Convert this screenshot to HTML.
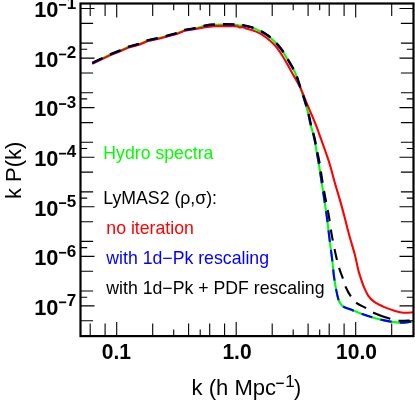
<!DOCTYPE html><html><head><meta charset="utf-8"><style>html,body{margin:0;padding:0;background:#fff}svg{display:block;will-change:transform}text{font-family:"Liberation Sans",sans-serif}</style></head><body>
<svg width="415" height="410" viewBox="0 0 415 410">
<rect width="415" height="410" fill="#fff"/>
<g fill="none" stroke-width="2.1" stroke-linejoin="round">
<path d="M92.30,63.20 L102.60,58.30 L109.90,54.80 L120.10,50.70 L128.90,46.80 L139.10,44.10 L147.30,40.60 L157.60,38.40 L166.30,36.20 L176.60,33.50 L184.60,30.20 L195.60,28.40 L203.80,26.10 L209.80,25.00 L214.60,24.70 L224.30,24.50 L233.90,24.70 L236.80,24.70 L239.50,25.80 L242.50,25.30 L246.20,26.20 C247.33,26.45 248.03,26.47 249.30,26.80 C250.57,27.13 252.20,27.58 253.80,28.20 C255.40,28.82 257.68,29.95 258.90,30.50 C260.12,31.05 260.30,31.08 261.10,31.50 C261.90,31.92 262.23,32.03 263.70,33.00 C265.17,33.97 267.77,35.52 269.90,37.30 C272.03,39.08 274.32,41.28 276.50,43.70 C278.68,46.12 281.05,49.00 283.00,51.80 C284.95,54.60 286.48,57.60 288.20,60.50 C289.92,63.40 292.07,66.98 293.30,69.20 C294.53,71.42 294.48,70.83 295.60,73.80 C296.72,76.77 298.53,82.62 300.00,87.00 C301.47,91.38 303.10,95.97 304.40,100.10 C305.70,104.23 306.75,107.65 307.80,111.80 C308.85,115.95 309.62,120.57 310.70,125.00 C311.78,129.43 313.27,133.73 314.30,138.40 C315.33,143.07 316.12,148.60 316.90,153.00 C317.68,157.40 318.35,160.85 319.00,164.80 C319.65,168.75 320.05,171.78 320.80,176.70 C321.55,181.62 322.68,188.93 323.50,194.30 C324.32,199.67 325.12,204.95 325.70,208.90 C326.28,212.85 326.55,214.55 327.00,218.00 C327.45,221.45 327.87,225.22 328.40,229.60 C328.93,233.98 329.58,239.42 330.20,244.30 C330.82,249.18 331.63,255.12 332.10,258.90 C332.57,262.68 332.68,264.03 333.00,267.00 C333.32,269.97 333.47,272.88 334.00,276.70 C334.53,280.52 335.47,286.12 336.20,289.90 C336.93,293.68 337.67,297.08 338.40,299.40 C339.13,301.72 339.75,302.58 340.60,303.80 C341.45,305.02 341.43,305.60 343.50,306.70 C345.57,307.80 349.78,309.13 353.00,310.40 C356.22,311.67 359.53,313.13 362.80,314.30 C366.07,315.47 369.02,316.38 372.60,317.40 C376.18,318.42 380.65,319.62 384.30,320.40 C387.95,321.18 391.33,321.73 394.50,322.10 C397.67,322.47 400.22,322.72 403.30,322.60 C406.38,322.48 411.38,321.60 413.00,321.40" stroke="#00ff00"/>
<path d="M92.30,63.80 L102.60,58.90 L109.90,55.40 L120.10,51.30 L128.90,47.40 L139.10,44.70 L147.30,41.20 L157.60,39.00 L166.30,36.80 L176.60,34.10 L184.60,30.80 L195.60,29.00 L203.80,27.50 L214.00,26.10 L224.30,25.90 L234.50,26.10 L237.00,26.30 L239.50,27.40 L242.50,27.10 L246.20,28.50 C248.08,29.12 251.30,29.87 253.80,30.80 C256.30,31.73 258.48,32.44 261.20,34.10 C263.92,35.76 267.55,38.50 270.15,40.75 C272.75,43.00 274.61,44.86 276.80,47.60 C278.99,50.34 281.37,54.12 283.30,57.20 C285.23,60.28 286.78,63.23 288.40,66.10 C290.02,68.97 290.95,70.68 293.00,74.40 C295.05,78.12 298.43,83.63 300.70,88.40 C302.97,93.17 304.77,98.60 306.60,103.00 C308.43,107.40 310.13,111.10 311.70,114.80 C313.27,118.50 314.48,121.27 316.00,125.20 C317.52,129.13 319.13,133.77 320.80,138.40 C322.47,143.03 324.48,148.60 326.00,153.00 C327.52,157.40 328.37,159.63 329.90,164.80 C331.43,169.97 333.45,177.87 335.20,184.00 C336.95,190.13 338.88,196.27 340.40,201.60 C341.92,206.93 342.88,210.60 344.30,216.00 C345.72,221.40 347.15,227.58 348.90,234.00 C350.65,240.42 353.23,248.50 354.80,254.50 C356.37,260.50 357.38,266.30 358.30,270.00 C359.22,273.70 359.38,273.92 360.30,276.70 C361.22,279.48 362.48,283.55 363.80,286.70 C365.12,289.85 366.50,293.10 368.20,295.60 C369.90,298.10 371.32,299.78 374.00,301.70 C376.68,303.62 380.88,305.60 384.30,307.10 C387.72,308.60 391.33,309.77 394.50,310.70 C397.67,311.63 400.22,312.43 403.30,312.70 C406.38,312.97 411.38,312.37 413.00,312.30" stroke="#ff0000"/>
<path d="M92.30,63.20 L102.60,58.30 L109.90,54.80 L120.10,50.70 L128.90,46.80 L139.10,44.10 L147.30,40.60 L157.60,38.40 L166.30,36.20 L176.60,33.50 L184.60,30.20 L195.60,28.40 L203.80,26.10 L209.80,25.00 L214.60,24.70 L224.30,24.50 L233.90,24.70 L236.80,24.70 L239.50,25.80 L242.50,25.30 L246.20,26.20 C247.33,26.45 248.03,26.47 249.30,26.80 C250.57,27.13 252.20,27.58 253.80,28.20 C255.40,28.82 257.68,29.95 258.90,30.50 C260.12,31.05 260.30,31.08 261.10,31.50 C261.90,31.92 262.23,32.03 263.70,33.00 C265.17,33.97 267.77,35.52 269.90,37.30 C272.03,39.08 274.32,41.28 276.50,43.70 C278.68,46.12 281.05,49.00 283.00,51.80 C284.95,54.60 286.48,57.60 288.20,60.50 C289.92,63.40 292.07,66.98 293.30,69.20 C294.53,71.42 294.48,70.83 295.60,73.80 C296.72,76.77 298.53,82.62 300.00,87.00 C301.47,91.38 303.10,95.97 304.40,100.10 C305.70,104.23 306.75,107.65 307.80,111.80 C308.85,115.95 309.62,120.57 310.70,125.00 C311.78,129.43 313.27,133.73 314.30,138.40 C315.33,143.07 316.12,148.60 316.90,153.00 C317.68,157.40 318.35,160.85 319.00,164.80 C319.65,168.75 320.05,171.78 320.80,176.70 C321.55,181.62 322.68,188.93 323.50,194.30 C324.32,199.67 325.12,204.95 325.70,208.90 C326.28,212.85 326.55,214.55 327.00,218.00 C327.45,221.45 327.87,225.22 328.40,229.60 C328.93,233.98 329.58,239.42 330.20,244.30 C330.82,249.18 331.63,255.12 332.10,258.90 C332.57,262.68 332.68,264.03 333.00,267.00 C333.32,269.97 333.47,272.88 334.00,276.70 C334.53,280.52 335.47,286.12 336.20,289.90 C336.93,293.68 337.67,297.08 338.40,299.40 C339.13,301.72 339.75,302.58 340.60,303.80 C341.45,305.02 341.43,305.60 343.50,306.70 C345.57,307.80 349.78,309.13 353.00,310.40 C356.22,311.67 359.53,313.13 362.80,314.30 C366.07,315.47 369.02,316.38 372.60,317.40 C376.18,318.42 380.65,319.62 384.30,320.40 C387.95,321.18 391.33,321.73 394.50,322.10 C397.67,322.47 400.22,322.72 403.30,322.60 C406.38,322.48 411.38,321.60 413.00,321.40" stroke="#0000ff" stroke-dasharray="11.35 8.29"/>
<path d="M92.30,62.80 L102.60,57.90 L109.90,54.40 L120.10,50.30 L128.90,46.40 L139.10,43.70 L147.30,40.20 L157.60,38.00 L166.30,35.80 L176.60,33.10 L184.60,29.80 L195.60,28.00 L203.80,25.70 L209.80,24.60 L214.60,24.30 L224.30,24.10 L233.90,24.30 L236.80,24.30 L239.50,25.40 L242.50,24.90 L246.20,25.80 C247.33,26.05 247.99,26.06 249.30,26.40 C250.61,26.74 252.41,27.22 254.05,27.85 C255.69,28.47 257.93,29.60 259.15,30.15 C260.37,30.70 260.55,30.73 261.35,31.15 C262.15,31.57 262.48,31.68 263.95,32.65 C265.42,33.62 267.99,35.13 270.15,36.95 C272.31,38.77 274.69,41.10 276.90,43.55 C279.11,46.00 281.45,48.85 283.40,51.65 C285.35,54.45 286.88,57.45 288.60,60.35 C290.32,63.25 292.47,66.83 293.70,69.05 C294.93,71.27 294.88,70.68 296.00,73.65 C297.12,76.62 298.93,82.47 300.40,86.85 C301.87,91.23 303.50,95.82 304.80,99.95 C306.10,104.08 307.15,107.50 308.20,111.65 C309.25,115.80 310.02,120.42 311.10,124.85 C312.18,129.28 313.62,133.56 314.70,138.25 C315.78,142.94 316.72,148.54 317.60,153.00 C318.48,157.46 319.33,161.17 320.00,165.00 C320.67,168.83 320.77,170.83 321.60,176.00 C322.43,181.17 323.82,189.50 325.00,196.00 C326.18,202.50 327.58,208.55 328.70,215.00 C329.82,221.45 330.55,228.20 331.70,234.70 C332.85,241.20 334.37,248.47 335.60,254.00 C336.83,259.53 337.90,263.87 339.10,267.90 C340.30,271.93 341.70,275.02 342.80,278.20 C343.90,281.38 344.35,283.95 345.70,287.00 C347.05,290.05 349.07,293.82 350.90,296.50 C352.73,299.18 354.15,301.15 356.70,303.10 C359.25,305.05 363.32,306.55 366.20,308.20 C369.08,309.85 370.13,311.27 374.00,313.00 C377.87,314.73 385.25,317.32 389.40,318.60 C393.55,319.88 395.37,320.40 398.90,320.70 C402.43,321.00 408.25,320.48 410.60,320.40 C412.95,320.32 412.60,320.23 413.00,320.20" stroke="#000" stroke-dasharray="11.35 8.29 11.35 8.29 11.35 8.29 11.35 8.29 11.35 8.29 11.35 8.29 11.35 8.29 11.35 8.29 11.35 8.29 11.35 8.29 11.35 8.29 11.35 8.29 11.35 8.29 11.35 8.29 11.35 8.29 11.35 8.29 11.35 8.29 11.35 8.29 11.35 8.29 11.35 8.29 11.35 8.29 11.35 8.29 11.35 8.29 11.35 8.29 11.35 8.29 18.1 8.6 11 30"/>
</g>
<g stroke="#000" stroke-width="1.1">
<path d="M90.2,336.1V323.5M90.2,3.5V16.1"/>
<path d="M105.1,336.1V323.5M105.1,3.5V16.1"/>
<path d="M116.7,336.1V322.1M116.7,3.5V17.5"/>
<path d="M152.7,336.1V323.5M152.7,3.5V16.1"/>
<path d="M173.7,336.1V329.4M173.7,3.5V10.2"/>
<path d="M188.6,336.1V323.5M188.6,3.5V16.1"/>
<path d="M200.2,336.1V329.4M200.2,3.5V10.2"/>
<path d="M209.7,336.1V323.5M209.7,3.5V16.1"/>
<path d="M224.6,336.1V323.5M224.6,3.5V16.1"/>
<path d="M236.2,336.1V322.1M236.2,3.5V17.5"/>
<path d="M272.2,336.1V323.5M272.2,3.5V16.1"/>
<path d="M293.2,336.1V329.4M293.2,3.5V10.2"/>
<path d="M308.1,336.1V323.5M308.1,3.5V16.1"/>
<path d="M319.7,336.1V329.4M319.7,3.5V10.2"/>
<path d="M329.2,336.1V323.5M329.2,3.5V16.1"/>
<path d="M344.1,336.1V323.5M344.1,3.5V16.1"/>
<path d="M355.7,336.1V322.1M355.7,3.5V17.5"/>
<path d="M391.7,336.1V323.5M391.7,3.5V16.1"/>
<path d="M80.5,320.8H93.1M413.5,320.8H400.9"/>
<path d="M80.5,305.9H94.5M413.5,305.9H399.5"/>
<path d="M80.5,297.2H87.2M413.5,297.2H406.8"/>
<path d="M80.5,291.0H93.1M413.5,291.0H400.9"/>
<path d="M80.5,271.3H93.1M413.5,271.3H400.9"/>
<path d="M80.5,256.4H94.5M413.5,256.4H399.5"/>
<path d="M80.5,247.6H87.2M413.5,247.6H406.8"/>
<path d="M80.5,241.4H93.1M413.5,241.4H400.9"/>
<path d="M80.5,221.7H93.1M413.5,221.7H400.9"/>
<path d="M80.5,206.8H94.5M413.5,206.8H399.5"/>
<path d="M80.5,198.1H87.2M413.5,198.1H406.8"/>
<path d="M80.5,191.9H93.1M413.5,191.9H400.9"/>
<path d="M80.5,172.1H93.1M413.5,172.1H400.9"/>
<path d="M80.5,157.2H94.5M413.5,157.2H399.5"/>
<path d="M80.5,148.5H87.2M413.5,148.5H406.8"/>
<path d="M80.5,142.3H93.1M413.5,142.3H400.9"/>
<path d="M80.5,122.6H93.1M413.5,122.6H400.9"/>
<path d="M80.5,107.6H94.5M413.5,107.6H399.5"/>
<path d="M80.5,98.9H87.2M413.5,98.9H406.8"/>
<path d="M80.5,92.7H93.1M413.5,92.7H400.9"/>
<path d="M80.5,73.0H93.1M413.5,73.0H400.9"/>
<path d="M80.5,58.1H94.5M413.5,58.1H399.5"/>
<path d="M80.5,49.3H87.2M413.5,49.3H406.8"/>
<path d="M80.5,43.1H93.1M413.5,43.1H400.9"/>
<path d="M80.5,23.4H93.1M413.5,23.4H400.9"/>
<path d="M80.5,8.5H94.5M413.5,8.5H399.5"/>
</g>
<rect x="80.5" y="3.5" width="333.0" height="332.6" fill="none" stroke="#000" stroke-width="2.2"/>
<text x="58.4" y="17.3" text-anchor="end" font-size="21.8" font-weight="bold">10</text>
<rect x="59.0" y="4.0" width="7.2" height="1.7" fill="#000"/>
<text x="76.3" y="8.7" text-anchor="end" font-size="17" font-weight="bold">1</text>
<text x="58.4" y="66.9" text-anchor="end" font-size="21.8" font-weight="bold">10</text>
<rect x="59.0" y="53.6" width="7.2" height="1.7" fill="#000"/>
<text x="76.3" y="58.3" text-anchor="end" font-size="17" font-weight="bold">2</text>
<text x="58.4" y="116.4" text-anchor="end" font-size="21.8" font-weight="bold">10</text>
<rect x="59.0" y="103.2" width="7.2" height="1.7" fill="#000"/>
<text x="76.3" y="107.8" text-anchor="end" font-size="17" font-weight="bold">3</text>
<text x="58.4" y="166.0" text-anchor="end" font-size="21.8" font-weight="bold">10</text>
<rect x="59.0" y="152.8" width="7.2" height="1.7" fill="#000"/>
<text x="76.3" y="157.4" text-anchor="end" font-size="17" font-weight="bold">4</text>
<text x="58.4" y="215.6" text-anchor="end" font-size="21.8" font-weight="bold">10</text>
<rect x="59.0" y="202.3" width="7.2" height="1.7" fill="#000"/>
<text x="76.3" y="207.0" text-anchor="end" font-size="17" font-weight="bold">5</text>
<text x="58.4" y="265.2" text-anchor="end" font-size="21.8" font-weight="bold">10</text>
<rect x="59.0" y="251.9" width="7.2" height="1.7" fill="#000"/>
<text x="76.3" y="256.6" text-anchor="end" font-size="17" font-weight="bold">6</text>
<text x="58.4" y="314.7" text-anchor="end" font-size="21.8" font-weight="bold">10</text>
<rect x="59.0" y="301.5" width="7.2" height="1.7" fill="#000"/>
<text x="76.3" y="306.1" text-anchor="end" font-size="17" font-weight="bold">7</text>
<text transform="translate(116.4,359.3) scale(0.94,1)" text-anchor="middle" font-size="22.4" font-weight="bold">0.1</text>
<text transform="translate(237.0,359.3) scale(0.94,1)" text-anchor="middle" font-size="22.4" font-weight="bold">1.0</text>
<text transform="translate(356.5,359.3) scale(0.94,1)" text-anchor="middle" font-size="22.4" font-weight="bold">10.0</text>
<text transform="translate(191.6,395.2) scale(0.985,1)" font-size="22.4">k (h Mpc</text>
<rect x="276.2" y="382.6" width="7.6" height="1.45" fill="#000"/>
<text x="285.3" y="387.3" font-size="17">1</text>
<text transform="translate(293.9,395.2) scale(0.965,1)" font-size="22.4">)</text>
<text transform="translate(21.3,170.3) rotate(-90) scale(0.975,1)" text-anchor="middle" font-size="22.6">k P(k)</text>
<text x="103.3" y="159.1" font-size="17.7" fill="#00ff00">Hydro spectra</text>
<text x="103.3" y="204.4" font-size="17.7" fill="#000">LyMAS2 (ρ,σ):</text>
<text x="106.3" y="234.4" font-size="17.7" fill="#ff0000">no iteration</text>
<text x="106.3" y="264.4" font-size="17.7" fill="#0000ff">with 1d−Pk rescaling</text>
<text x="106.3" y="294.0" font-size="17.7" fill="#000">with 1d−Pk + PDF rescaling</text>
</svg></body></html>
